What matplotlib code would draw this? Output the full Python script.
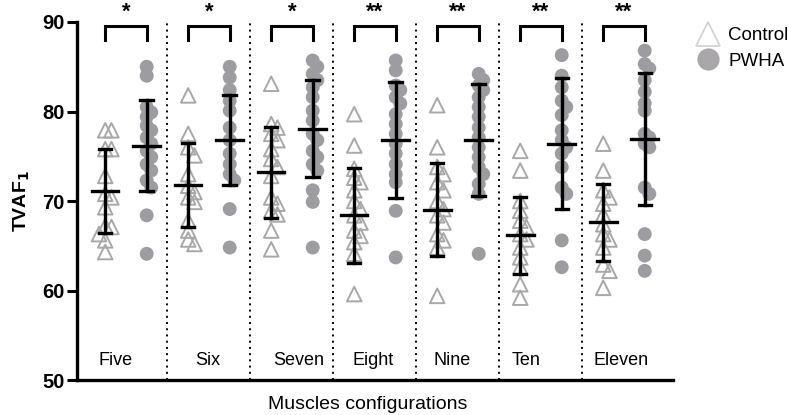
import numpy as np
import matplotlib
matplotlib.use('Agg')
import matplotlib.pyplot as plt
from matplotlib.lines import Line2D

plt.rcParams['font.family'] = ['Liberation Sans', 'DejaVu Sans']

groups = ['Five', 'Six', 'Seven', 'Eight', 'Nine', 'Ten', 'Eleven']
stars = ['*', '*', '*', '**', '**', '**', '**']

# TVAF1 per subject, control group
control = [
    [77.9, 77.9, 75.8, 75.8, 72.8, 70.8, 70.4, 69.3, 67.2, 67.1, 66.3, 65.6, 64.3],
    [81.8, 77.5, 76.0, 75.1, 73.0, 71.7, 71.0, 70.4, 69.9, 67.8, 66.7, 65.7, 65.2],
    [83.1, 78.6, 78.2, 77.5, 76.8, 75.8, 74.7, 73.8, 72.8, 70.4, 69.7, 68.9, 68.5, 66.7, 64.6],
    [79.7, 76.2, 73.6, 72.6, 72.1, 71.2, 70.0, 69.1, 68.4, 67.6, 66.7, 66.1, 65.4, 64.1, 59.6],
    [80.7, 76.0, 73.8, 73.0, 72.1, 71.2, 70.0, 69.1, 68.4, 67.6, 66.3, 65.6, 64.8, 59.4],
    [75.6, 73.4, 70.0, 68.9, 67.8, 67.1, 66.3, 65.7, 64.8, 63.7, 62.6, 60.7, 59.2],
    [76.4, 73.4, 71.2, 70.4, 69.7, 68.5, 67.4, 66.3, 65.7, 64.8, 62.9, 62.2, 60.3],
]
# TVAF1 per subject, PWHA group
pwha = [
    [85.0, 84.0, 80.5, 79.9, 79.4, 78.4, 77.9, 77.1, 76.4, 75.6, 74.9, 74.1, 73.4, 72.3, 71.5, 68.4, 64.1],
    [85.0, 83.8, 82.4, 81.2, 80.1, 78.2, 76.8, 75.3, 74.1, 73.0, 72.3, 69.1, 64.8],
    [85.7, 85.0, 84.2, 83.5, 82.7, 81.6, 80.1, 79.0, 77.5, 76.8, 75.6, 74.9, 74.1, 73.4, 71.2, 69.9, 64.8],
    [85.7, 84.6, 82.9, 82.4, 81.6, 80.9, 79.7, 78.6, 77.5, 76.4, 75.3, 74.1, 73.0, 72.1, 68.9, 63.7],
    [84.2, 83.5, 82.9, 82.4, 81.6, 80.5, 79.4, 78.2, 77.1, 76.0, 74.9, 73.8, 73.0, 71.9, 70.8, 64.1],
    [86.3, 84.0, 82.7, 81.2, 80.5, 79.6, 77.9, 76.8, 76.0, 75.3, 73.8, 71.5, 70.8, 65.6, 62.6],
    [86.8, 85.3, 84.8, 83.5, 82.2, 80.9, 80.1, 77.5, 77.1, 76.4, 76.0, 71.5, 70.8, 66.3, 63.9, 62.2],
]
control_mean = [71.1, 71.8, 73.2, 68.4, 69.0, 66.2, 67.6]
control_sd = [4.7, 4.65, 5.1, 5.3, 5.2, 4.3, 4.35]
pwha_mean = [76.2, 76.8, 78.1, 76.8, 76.8, 76.4, 76.9]
pwha_sd = [5.1, 5.05, 5.45, 6.5, 6.25, 7.3, 7.35]

label_shift = [0.12, 0.24, 0.33, 0.23, 0.18, 0.07, 0.22]


def swarm(vals, center, dx=0.07, ry=1.0):
    # place points side by side when their values are close
    placed = []
    xs = []
    for v in vals:
        for k in [0, 1, -1, 2, -2, 3, -3]:
            x = center + k * dx
            ok = True
            for px, pv in placed:
                if abs(px - x) < dx * 0.9 and abs(pv - v) < ry:
                    ok = False
                    break
            if ok:
                break
        placed.append((x, v))
        xs.append(x)
    return np.array(xs)


fig = plt.figure(figsize=(7.88, 4.15), dpi=100)
ax = fig.add_axes([0.0977, 0.0843, 0.7563, 0.8627])

tri_col = '#a8a8a8'
dot_col = '#9d9da1'

for i, g in enumerate(groups):
    xc, xp = i, i + 0.5
    ax.scatter(swarm(control[i], xc, dx=0.075, ry=1.0), control[i], marker='^', s=110,
               facecolors='none', edgecolors=tri_col, linewidths=1.4, zorder=2)
    ax.scatter(swarm(pwha[i], xp, dx=0.055, ry=0.8), pwha[i], marker='o', s=100,
               color=dot_col, edgecolors='none', zorder=2)
    for x, m, s in [(xc, control_mean[i], control_sd[i]), (xp, pwha_mean[i], pwha_sd[i])]:
        ax.plot([x, x], [m - s, m + s], color='black', lw=2.4, zorder=3)
        ax.plot([x - 0.075, x + 0.075], [m + s, m + s], color='black', lw=2.4, zorder=3)
        ax.plot([x - 0.075, x + 0.075], [m - s, m - s], color='black', lw=2.4, zorder=3)
        ax.plot([x - 0.16, x + 0.16], [m, m], color='black', lw=2.4, zorder=3)
    # significance bracket
    ax.plot([xc, xc, xp, xp], [88.0, 89.5, 89.5, 88.0], color='black', lw=2.2,
            clip_on=False, solid_joinstyle='miter')
    ax.text((xc + xp) / 2, 89.9, stars[i], ha='center', va='bottom',
            fontsize=16, fontweight='bold', clip_on=False)
    ax.text(i + label_shift[i], 52.2, g, ha='center', va='center', fontsize=13)
    if i < len(groups) - 1:
        ax.axvline(i + 0.75, color='black', lw=1.4, ls=(0, (1, 2.2)), zorder=1)

ax.set_xlim(-0.34, 6.84)
ax.set_ylim(50, 90)
ax.set_yticks([50, 60, 70, 80, 90])
ax.set_xticks([])
for lab in ax.get_yticklabels():
    lab.set_fontweight('bold')
ax.tick_params(axis='y', labelsize=14.5, width=2.2, length=7, direction='out', pad=2)
ax.spines['top'].set_visible(False)
ax.spines['right'].set_visible(False)
ax.spines['left'].set_linewidth(2.4)
ax.spines['bottom'].set_linewidth(2.4)
ax.set_ylabel('TVAF$_\\mathbf{1}$', fontsize=14, fontweight='bold')
ax.yaxis.set_label_coords(-0.075, 0.5)
ax.set_xlabel('Muscles configurations', fontsize=14)
ax.xaxis.set_label_coords(0.487, -0.045)

handles = [
    Line2D([], [], marker='^', ls='none', markersize=17, markerfacecolor='none',
           markeredgecolor='#cfcfcf', markeredgewidth=1.2, label='Control'),
    Line2D([], [], marker='o', ls='none', markersize=16, markerfacecolor='#a9a7aa',
           markeredgecolor='none', label='PWHA'),
]
fig.legend(handles=handles, loc='upper left', bbox_to_anchor=(0.862, 0.975),
           frameon=False, fontsize=13.5, handletextpad=0.4, labelspacing=0.45,
           handlelength=1.3)

fig.savefig('out.png', dpi=100)
